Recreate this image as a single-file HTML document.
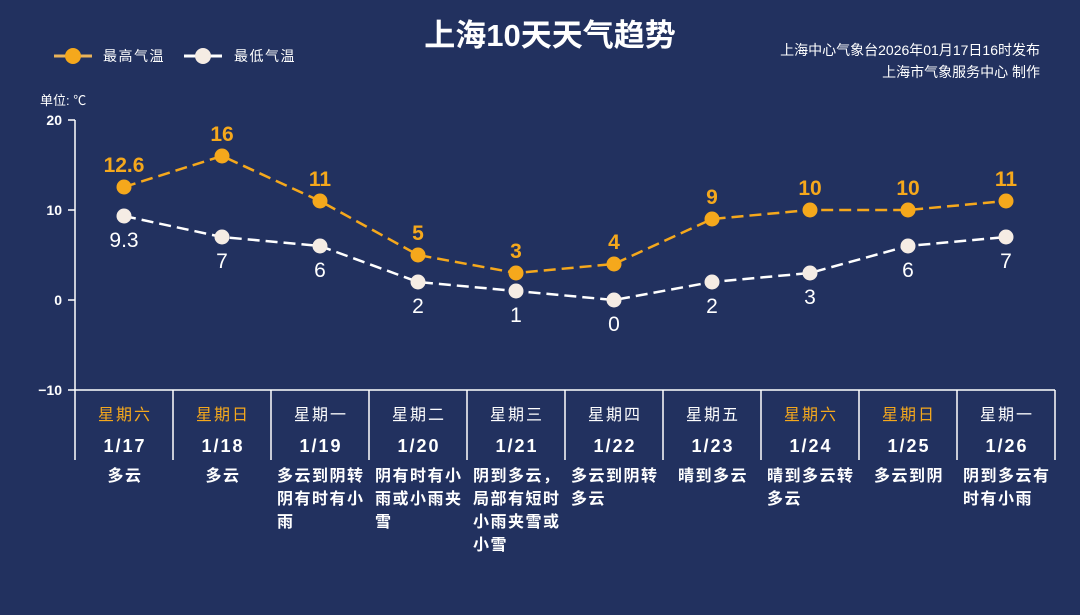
<!DOCTYPE html>
<html><head><meta charset="utf-8"><style>
body{margin:0;width:1080px;height:610px;background:#22315f;overflow:hidden;font-family:"Liberation Sans","Noto Sans CJK SC",sans-serif;}
</style></head><body>
<svg width="1080" height="610" xmlns="http://www.w3.org/2000/svg" font-family="Liberation Sans, Noto Sans CJK SC, sans-serif">
<rect width="1080" height="610" fill="#22315f"/>
<text x="550" y="46" fill="#fff" font-size="31" font-weight="bold" text-anchor="middle">上海10天天气趋势</text>
<text x="1040" y="55" fill="#fff" font-size="14" text-anchor="end">上海中心气象台2026年01月17日16时发布</text>
<text x="1040" y="77" fill="#fff" font-size="14" text-anchor="end">上海市气象服务中心  制作</text>
<line x1="54" y1="56" x2="92" y2="56" stroke="#e9b35a" stroke-width="3"/><circle cx="73" cy="56" r="8" fill="#f5a81c"/>
<text x="103" y="61" fill="#fff" font-size="14" letter-spacing="1.5">最高气温</text>
<line x1="184" y1="56" x2="222" y2="56" stroke="#fff" stroke-width="3"/><circle cx="203" cy="56" r="8" fill="#f5ece4"/>
<text x="234" y="61" fill="#fff" font-size="14" letter-spacing="1.5">最低气温</text>
<text x="40" y="105" fill="#fff" font-size="13">单位: ℃</text>
<g stroke="#fff" stroke-width="1.5" fill="none">
<line x1="75" y1="120" x2="75" y2="460"/>
<line x1="68" y1="120" x2="75" y2="120"/><line x1="68" y1="210" x2="75" y2="210"/><line x1="68" y1="300" x2="75" y2="300"/>
<line x1="68" y1="390" x2="1055" y2="390"/>
<line x1="173" y1="390" x2="173" y2="460"/><line x1="271" y1="390" x2="271" y2="460"/><line x1="369" y1="390" x2="369" y2="460"/><line x1="467" y1="390" x2="467" y2="460"/><line x1="565" y1="390" x2="565" y2="460"/><line x1="663" y1="390" x2="663" y2="460"/><line x1="761" y1="390" x2="761" y2="460"/><line x1="859" y1="390" x2="859" y2="460"/><line x1="957" y1="390" x2="957" y2="460"/><line x1="1055" y1="390" x2="1055" y2="460"/>
</g>
<g fill="#fff" font-size="14" font-weight="bold" text-anchor="end">
<text x="62" y="125">20</text><text x="62" y="215">10</text><text x="62" y="305">0</text><text x="62" y="395">−10</text>
</g>
<polyline points="124,216 222,237 320,246 418,282 516,291 614,300 712,282 810,273 908,246 1006,237" fill="none" stroke="#fff" stroke-width="2.5" stroke-dasharray="12,6"/>
<polyline points="124,187 222,156 320,201 418,255 516,273 614,264 712,219 810,210 908,210 1006,201" fill="none" stroke="#f5a81c" stroke-width="2.5" stroke-dasharray="12,6"/>
<g fill="#f5ece4"><circle cx="124" cy="216" r="7.5"/><circle cx="222" cy="237" r="7.5"/><circle cx="320" cy="246" r="7.5"/><circle cx="418" cy="282" r="7.5"/><circle cx="516" cy="291" r="7.5"/><circle cx="614" cy="300" r="7.5"/><circle cx="712" cy="282" r="7.5"/><circle cx="810" cy="273" r="7.5"/><circle cx="908" cy="246" r="7.5"/><circle cx="1006" cy="237" r="7.5"/></g>
<g fill="#f5a81c"><circle cx="124" cy="187" r="7.5"/><circle cx="222" cy="156" r="7.5"/><circle cx="320" cy="201" r="7.5"/><circle cx="418" cy="255" r="7.5"/><circle cx="516" cy="273" r="7.5"/><circle cx="614" cy="264" r="7.5"/><circle cx="712" cy="219" r="7.5"/><circle cx="810" cy="210" r="7.5"/><circle cx="908" cy="210" r="7.5"/><circle cx="1006" cy="201" r="7.5"/></g>
<g fill="#f5a81c" font-size="21" font-weight="bold" text-anchor="middle">
<text x="124" y="172">12.6</text><text x="222" y="141">16</text><text x="320" y="186">11</text><text x="418" y="240">5</text><text x="516" y="258">3</text><text x="614" y="249">4</text><text x="712" y="204">9</text><text x="810" y="195">10</text><text x="908" y="195">10</text><text x="1006" y="186">11</text>
</g>
<g fill="#fff" font-size="21" text-anchor="middle">
<text x="124" y="247">9.3</text><text x="222" y="268">7</text><text x="320" y="277">6</text><text x="418" y="313">2</text><text x="516" y="322">1</text><text x="614" y="331">0</text><text x="712" y="313">2</text><text x="810" y="304">3</text><text x="908" y="277">6</text><text x="1006" y="268">7</text>
</g>
<g font-size="16" text-anchor="middle" letter-spacing="2">
<text x="125" y="420" fill="#f5a81c">星期六</text><text x="223" y="420" fill="#f5a81c">星期日</text><text x="321" y="420" fill="#fff">星期一</text><text x="419" y="420" fill="#fff">星期二</text><text x="517" y="420" fill="#fff">星期三</text><text x="615" y="420" fill="#fff">星期四</text><text x="713" y="420" fill="#fff">星期五</text><text x="811" y="420" fill="#f5a81c">星期六</text><text x="909" y="420" fill="#f5a81c">星期日</text><text x="1007" y="420" fill="#fff">星期一</text>
</g>
<g fill="#fff" font-size="18" font-weight="bold" text-anchor="middle" letter-spacing="2">
<text x="125" y="452">1/17</text><text x="223" y="452">1/18</text><text x="321" y="452">1/19</text><text x="419" y="452">1/20</text><text x="517" y="452">1/21</text><text x="615" y="452">1/22</text><text x="713" y="452">1/23</text><text x="811" y="452">1/24</text><text x="909" y="452">1/25</text><text x="1007" y="452">1/26</text>
</g>
<g fill="#fff" font-size="16" font-weight="bold" letter-spacing="1.5">
<text x="125" y="481" text-anchor="middle">多云</text>
<text x="223" y="481" text-anchor="middle">多云</text>
<text x="277" y="481">多云到阴转</text><text x="277" y="504">阴有时有小</text><text x="277" y="527">雨</text>
<text x="375" y="481">阴有时有小</text><text x="375" y="504">雨或小雨夹</text><text x="375" y="527">雪</text>
<text x="473" y="481">阴到多云，</text><text x="473" y="504">局部有短时</text><text x="473" y="527">小雨夹雪或</text><text x="473" y="550">小雪</text>
<text x="571" y="481">多云到阴转</text><text x="571" y="504">多云</text>
<text x="713" y="481" text-anchor="middle">晴到多云</text>
<text x="767" y="481">晴到多云转</text><text x="767" y="504">多云</text>
<text x="909" y="481" text-anchor="middle">多云到阴</text>
<text x="963" y="481">阴到多云有</text><text x="963" y="504">时有小雨</text>
</g>
</svg>
</body></html>
